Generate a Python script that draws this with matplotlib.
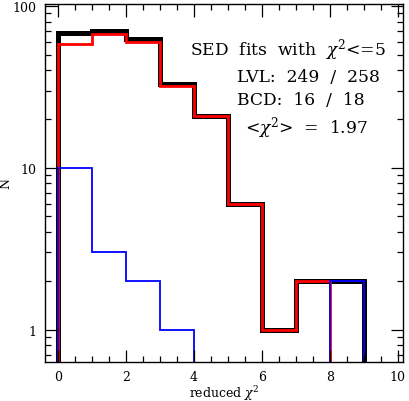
import numpy as np
import matplotlib.pyplot as plt
from matplotlib.ticker import MultipleLocator, LogLocator, NullFormatter, FixedFormatter, FixedLocator

# histogram of reduced chi^2, bins of width 1
edges = np.arange(0, 10, 1)
lvl = np.array([58, 67, 60, 32, 21, 6, 1, 2, 0])
bcd = np.array([10, 3, 2, 1, 0, 0, 0, 0, 2])
total = lvl + bcd

text_lines = ["SED  fits  with  $\\chi^2$<=5", "LVL:  249  /  258", "BCD:  16  /  18",
              "<$\\chi^2$>  =  1.97"]

plt.rcParams['font.family'] = 'DejaVu Serif'
plt.rcParams['mathtext.fontset'] = 'dejavuserif'

fig = plt.figure(figsize=(4.09, 4.02), dpi=100)
ax = fig.add_axes([0.110, 0.097, 0.875, 0.891])

floor = 1e-3
ax.stairs(np.maximum(total, floor), edges, baseline=floor, color='black', lw=3.6)
ax.stairs(np.maximum(lvl, floor), edges, baseline=floor, color='red', lw=2.0)
ax.stairs(np.maximum(bcd, floor), edges, baseline=floor, color='blue', lw=1.3)

ax.set_yscale('log')
ax.set_xlim(-0.38, 10.15)
ax.set_ylim(0.63, 103)

ax.xaxis.set_major_locator(MultipleLocator(2))
ax.xaxis.set_minor_locator(MultipleLocator(0.5))
ax.yaxis.set_major_locator(FixedLocator([1, 10, 100]))
ax.yaxis.set_major_formatter(FixedFormatter(['1', '10', '100']))
ax.yaxis.set_minor_locator(LogLocator(base=10, subs=np.arange(2, 10)))
ax.yaxis.set_minor_formatter(NullFormatter())
ax.tick_params(which='both', direction='in', top=True, right=True, labelsize=9)
ax.tick_params(which='major', length=9, width=0.9)
ax.tick_params(which='minor', length=4.5, width=0.9)
ax.tick_params(axis='y', which='major', pad=6)
ax.tick_params(axis='x', which='major', pad=6)
for s in ax.spines.values():
    s.set_linewidth(1.0)

ax.set_xlabel("reduced $\\chi^2$", fontsize=9)
ax.set_ylabel("N", fontsize=9)
ax.yaxis.set_label_coords(-0.09, 0.5)
ax.xaxis.set_label_coords(0.5, -0.058)

# annotation block (positions in axes fraction)
xs = [0.405, 0.537, 0.537, 0.56]
ys = [0.874, 0.798, 0.733, 0.655]
for t, x, y in zip(text_lines, xs, ys):
    ax.text(x, y, t, transform=ax.transAxes, fontsize=12.3, va='center', ha='left')

fig.savefig('out.png', dpi=100)
